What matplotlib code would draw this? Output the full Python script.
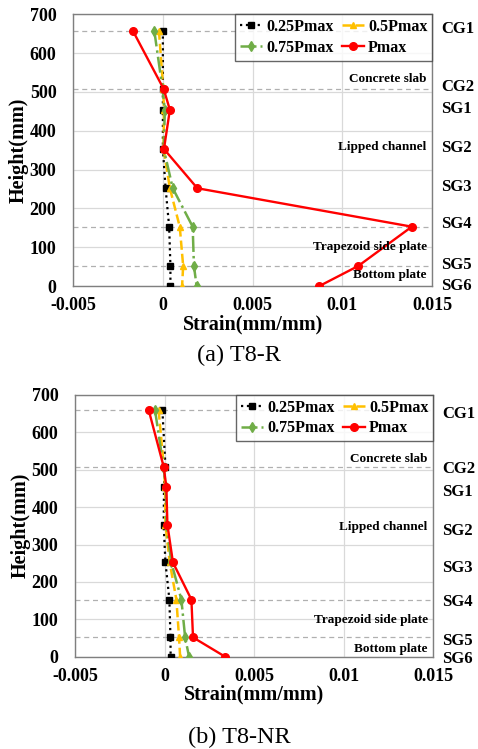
import matplotlib
matplotlib.use("Agg")
import matplotlib.pyplot as plt
import matplotlib.transforms as mtransforms

plt.rcParams['font.family'] = ['Liberation Serif', 'DejaVu Serif']

heights = [658, 508, 454, 353, 252, 153, 52, 0]
gauges = ["CG1", "CG2", "SG1", "SG2", "SG3", "SG4", "SG5", "SG6"]
series_names = ["0.25Pmax", "0.5Pmax", "0.75Pmax", "Pmax"]

r_025 = [0.0, 0.0, 0.0, 0.0, 0.00015, 0.00035, 0.00042, 0.00042]
r_050 = [-0.00022, 0.00002, 0.00006, 0.00004, 0.00039, 0.00094, 0.00113, 0.00107]
r_075 = [-0.00048, -0.00002, 0.00011, 0.00005, 0.00055, 0.00166, 0.00173, 0.00188]
r_pmax = [-0.00168, 0.00004, 0.00039, 0.00006, 0.00192, 0.01387, 0.01089, 0.00871]

n_025 = [-0.00012, 0.00005, -0.00003, -0.00005, 0.00005, 0.00027, 0.00033, 0.00034]
n_050 = [-0.00033, -0.00004, 0.00003, 0.00005, 0.00029, 0.00066, 0.00081, 0.00087]
n_075 = [-0.00053, -0.00006, 0.00007, 0.00010, 0.00038, 0.00094, 0.00115, 0.00137]
n_pmax = [-0.00088, -0.00005, 0.00010, 0.00016, 0.00047, 0.00150, 0.00159, 0.00340]

x_ticks = [-0.005, 0, 0.005, 0.01, 0.015]
x_ticklabels = ["-0.005", "0", "0.005", "0.01", "0.015"]
y_ticks = [0, 100, 200, 300, 400, 500, 600, 700]
dash_heights = [658, 508, 153, 52]
regions = ["Concrete slab", "Lipped channel", "Trapezoid side plate", "Bottom plate"]

styles = [
    dict(color="black", ls=":", lw=1.6, marker="s", ms=5),
    dict(color="#FFC000", ls="--", lw=1.8, marker="^", ms=5),
    dict(color="#70AD47", ls="-.", lw=1.8, marker="d", ms=5),
    dict(color="#FF0000", ls="-", lw=1.7, marker="o", ms=5.5),
]

fig = plt.figure(figsize=(4.78, 7.49), dpi=100)


def panel(rect, data, region_y, label_y, caption, xlabel_y, caption_y):
    ax = fig.add_axes(rect)
    for h in dash_heights:
        ax.axhline(h, color="#B0B0B0", ls=(0, (4, 3)), lw=0.9, zorder=1)
    lines = []
    for vals, st, name in zip(data, styles, series_names):
        ln, = ax.plot(vals, heights, label=name, zorder=3, **st)
        lines.append(ln)
    ax.set_xlim(-0.005, 0.015)
    ax.set_ylim(0, 700)
    ax.set_xticks(x_ticks)
    ax.set_xticklabels(x_ticklabels)
    ax.set_yticks(y_ticks)
    ax.grid(True, color="#D9D9D9", lw=0.9)
    ax.set_axisbelow(True)
    for s in ax.spines.values():
        s.set_color("#7F7F7F")
        s.set_linewidth(1.0)
    ax.tick_params(length=0, labelsize=13)
    ax.tick_params(axis="y", pad=12)
    ax.tick_params(axis="x", pad=8)
    for t in ax.get_xticklabels() + ax.get_yticklabels():
        t.set_fontweight("bold")
    ax.set_ylabel("Height(mm)", fontsize=14.5, fontweight="bold", labelpad=1)
    order = [0, 2, 1, 3]
    leg = ax.legend([lines[i] for i in order], [series_names[i] for i in order],
                    ncol=2, loc="upper right", borderaxespad=0.0,
                    prop=dict(weight="bold", size=11.5), frameon=True,
                    fancybox=False, edgecolor="#404040", handlelength=1.4,
                    handletextpad=0.25, columnspacing=0.5, labelspacing=0.3,
                    borderpad=0.3)
    leg.get_frame().set_linewidth(1.0)
    for txt, y in zip(regions, region_y):
        ax.text(0.985, y, txt, transform=mtransforms.blended_transform_factory(ax.transAxes, ax.transData),
                ha="right", va="center", fontsize=9.5, fontweight="bold", zorder=4)
    for g, y in zip(gauges, label_y):
        ax.text(1.025, y, g, transform=mtransforms.blended_transform_factory(ax.transAxes, ax.transData),
                ha="left", va="center", fontsize=12, fontweight="bold", clip_on=False)
    fig.text(rect[0] + rect[2] / 2, xlabel_y, "Strain(mm/mm)", ha="center", va="center",
             fontsize=14.5, fontweight="bold")
    fig.text(0.5, caption_y, caption, ha="center", va="center", fontsize=17.5)
    return ax


panel([0.153, 0.618, 0.751, 0.363], [r_025, r_050, r_075, r_pmax],
      [533, 358, 100, 28], [662, 512, 457, 355, 255, 160, 55, 0],
      "(a) T8-R", 1 - 324 / 749, 1 - 355 / 749)
panel([0.157, 0.123, 0.749, 0.350], [n_025, n_050, n_075, n_pmax],
      [529, 347, 99, 21], [649, 502, 441, 337, 238, 147, 43, -5],
      "(b) T8-NR", 1 - 694 / 749, 1 - 737 / 749)

fig.savefig("out.png", dpi=100)
